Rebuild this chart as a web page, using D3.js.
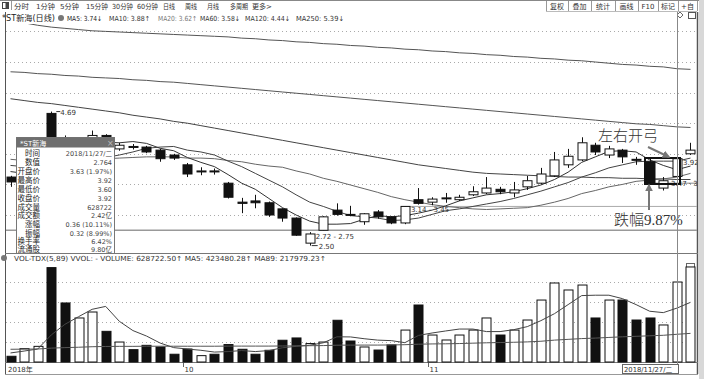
<!DOCTYPE html>
<html><head><meta charset="utf-8">
<script src="https://cdn.jsdelivr.net/npm/d3@7"></script>
<style>
body{margin:0;background:#fff}
svg{display:block}
text{font-family:"DejaVu Sans","Noto Sans CJK SC",sans-serif}
text.serif{font-family:"Liberation Serif","Noto Sans CJK SC",serif;font-weight:300}
</style>
</head><body>
<svg id="c" width="704" height="379"></svg>
<script>
// ---------------- DATA ----------------
const dates = ["2018-09-11","2018-09-12","2018-09-13","2018-09-14","2018-09-17","2018-09-18","2018-09-19","2018-09-20","2018-09-21","2018-09-25","2018-09-26","2018-09-27","2018-09-28",
"2018-10-08","2018-10-09","2018-10-10","2018-10-11","2018-10-12","2018-10-15","2018-10-16","2018-10-17","2018-10-18","2018-10-19","2018-10-22","2018-10-23","2018-10-24","2018-10-25","2018-10-26","2018-10-29","2018-10-30","2018-10-31",
"2018-11-01","2018-11-02","2018-11-05","2018-11-06","2018-11-07","2018-11-08","2018-11-09","2018-11-12","2018-11-13","2018-11-14","2018-11-15","2018-11-16","2018-11-19","2018-11-20","2018-11-21","2018-11-22","2018-11-23","2018-11-26","2018-11-27","2018-11-28"];
const openP  = [3.62,3.56,3.68,4.66,4.25,4.02,4.18,4.30,4.08,4.12,4.11,4.06,3.98,3.82,3.71,3.72,3.52,3.21,3.23,3.20,3.10,2.95,2.54,2.75,3.08,3.01,2.89,3.05,2.97,2.87,3.25,3.21,3.27,3.25,3.33,3.36,3.42,3.36,3.46,3.52,3.64,3.82,3.90,4.14,3.98,4.06,3.91,3.87,3.44,3.63,4.00];
const highP  = [3.64,3.72,3.84,4.69,4.30,4.26,4.38,4.32,4.18,4.16,4.13,4.08,4.00,3.85,3.78,3.76,3.54,3.28,3.33,3.22,3.11,2.96,2.72,2.98,3.19,3.15,3.03,3.08,2.98,3.14,3.44,3.29,3.36,3.33,3.47,3.62,3.46,3.54,3.64,3.77,4.03,4.08,4.27,4.18,4.13,4.08,3.95,3.93,3.62,3.92,4.18];
const lowP   = [3.46,3.52,3.65,4.18,3.98,3.98,4.12,4.12,4.05,4.07,4.01,3.87,3.90,3.62,3.65,3.66,3.27,3.03,3.11,2.97,2.89,2.66,2.50,2.75,2.99,2.98,2.84,2.94,2.85,2.85,3.17,3.16,3.20,3.23,3.31,3.34,3.34,3.29,3.41,3.50,3.62,3.77,3.88,3.98,3.93,3.85,3.82,3.50,3.40,3.60,3.98];
const closeP = [3.54,3.68,3.80,4.25,4.05,4.20,4.30,4.15,4.14,4.11,4.03,3.92,3.93,3.67,3.72,3.71,3.29,3.19,3.20,3.00,2.95,2.67,2.69,2.97,3.01,3.00,3.02,2.97,2.87,3.14,3.19,3.26,3.28,3.29,3.38,3.44,3.38,3.41,3.56,3.67,3.90,3.96,4.18,4.03,4.08,3.95,3.90,3.52,3.56,3.92,4.06];
const volume = [45000,105000,123000,742000,464000,346000,393000,241000,157000,97000,131000,118000,61000,102000,50000,61000,137000,100000,61000,92000,171000,189000,145000,157000,328000,165000,
118000,94000,134000,251000,448000,212000,173000,212000,251000,346000,212000,251000,330000,487000,621000,566000,605000,346000,487000,487000,330000,346000,291000,628722,747000];
const ma5  = [3.71,3.68,3.68,3.78,3.86,4.00,4.12,4.19,4.18,4.20,4.17,4.09,4.05,3.94,3.86,3.79,3.66,3.52,3.42,3.27,3.12,3.00,2.90,2.85,2.85,2.86,2.93,2.99,2.97,2.99,3.03,3.08,3.15,3.23,3.28,3.33,3.35,3.38,3.43,3.49,3.58,3.70,3.86,3.95,4.04,4.05,4.03,3.90,3.81,3.74,3.80];
const ma10 = [3.81,3.79,3.77,3.80,3.82,3.86,3.90,3.94,3.98,4.03,4.09,4.11,4.12,4.06,4.03,3.98,3.88,3.79,3.68,3.57,3.46,3.33,3.21,3.14,3.06,2.99,2.97,2.95,2.91,2.92,2.95,3.01,3.07,3.10,3.14,3.18,3.22,3.27,3.33,3.39,3.46,3.53,3.62,3.69,3.77,3.82,3.87,3.88,3.88,3.88,3.93];
const ma20 = [3.91,3.89,3.88,3.89,3.89,3.91,3.92,3.92,3.93,3.94,3.95,3.95,3.95,3.93,3.93,3.92,3.89,3.87,3.83,3.80,3.78,3.72,3.67,3.60,3.55,3.49,3.43,3.37,3.30,3.25,3.21,3.17,3.14,3.12,3.10,3.09,3.10,3.11,3.12,3.16,3.21,3.27,3.35,3.40,3.46,3.50,3.55,3.57,3.59,3.62,3.68];
const ma60 = [4.90,4.87,4.84,4.82,4.79,4.76,4.73,4.70,4.67,4.63,4.60,4.57,4.53,4.50,4.46,4.42,4.38,4.34,4.30,4.26,4.22,4.18,4.14,4.10,4.06,4.02,3.98,3.94,3.90,3.86,3.82,3.79,3.76,3.73,3.70,3.68,3.67,3.66,3.65,3.64,3.63,3.62,3.62,3.61,3.61,3.60,3.60,3.59,3.59,3.58,3.58];
const ma120 = [5.34,5.33,5.31,5.30,5.28,5.27,5.25,5.24,5.23,5.21,5.20,5.18,5.17,5.15,5.13,5.11,5.09,5.07,5.05,5.03,5.01,4.99,4.97,4.95,4.93,4.91,4.89,4.87,4.85,4.83,4.81,4.79,4.77,4.75,4.73,4.71,4.69,4.67,4.65,4.63,4.61,4.59,4.57,4.55,4.53,4.51,4.49,4.48,4.46,4.44,4.43];
const ma250 = [6.18,6.14,6.10,6.07,6.05,6.03,6.01,6.00,5.99,5.98,5.97,5.96,5.95,5.94,5.93,5.92,5.91,5.89,5.88,5.86,5.85,5.83,5.82,5.80,5.79,5.77,5.76,5.74,5.73,5.71,5.70,5.68,5.67,5.65,5.64,5.62,5.61,5.59,5.58,5.56,5.55,5.53,5.52,5.50,5.48,5.46,5.45,5.43,5.42,5.39,5.38];
const volMa5 = [71000,86000,102000,213000,296000,356000,414000,437000,320000,247000,204000,149000,113000,102000,92000,78000,82000,90000,82000,90000,112000,123000,132000,151000,198000,197000,183000,172000,168000,152000,209000,228000,244000,259000,259000,239000,239000,254000,278000,325000,380000,451000,522000,525000,525000,498000,451000,399000,388000,423480,469000];
const volMa89 = [100000,101000,102000,109000,113000,116000,120000,122000,123000,123000,124000,124000,124000,124000,124000,124000,125000,125000,125000,125000,126000,127000,128000,129000,132000,133000,133000,133000,134000,136000,140000,142000,143000,145000,148000,151000,153000,155000,158000,163000,172000,178000,184000,188000,193000,198000,202000,206000,210000,217979,225000];
const priceGrid = [3.0,3.5,4.0,4.5,5.0,5.5,6.0];
const volGrid = [157200,314400,471600,628800];
const monthTicks = [{d:"2018-10-08",label:"10"},{d:"2018-11-01",label:"11"}];
const toolLeft = ["分时","1分钟","5分钟","15分钟","30分钟","60分钟","日线","周线","月线","多周期","更多>"];
const toolRight = ["复权","叠加","统计","画线","F10","标记","+自"];
const maLegend = [["MA5: 3.74↓","#222"],["MA10: 3.88↑","#333"],["MA20: 3.62↑","#777"],["MA60: 3.58↓","#333"],["MA120: 4.44↓","#333"],["MA250: 5.39↓","#333"]];
const tipLabels = ["时间","数值","开盘价","最高价","最低价","收盘价","成交量","成交额","涨幅","振幅","换手率","流通股"];
const tipValues = ["2018/11/27/二","2.764","3.63 (1.97%)","3.92","3.60","3.92","628722","2.42亿","0.36 (10.11%)","0.32 (8.99%)","6.42%","9.80亿"];

// ---------------- SCALES ----------------
const svg = d3.select("#c");
const x = d3.scalePoint().domain(dates).range([3.7, 697.3]).padding(0.5);
const y = d3.scaleLinear().domain([3.0, 5.5]).range([215, 62]);
const yv = d3.scaleLinear().domain([0, 786000]).range([362, 262]);
const bw = 9;

svg.append("rect").attr("width",704).attr("height",379).attr("fill","#fff");
const defs = svg.append("defs");
defs.append("clipPath").attr("id","cm").append("rect").attr("x",6).attr("y",24).attr("width",691).attr("height",229);
defs.append("clipPath").attr("id","cv").append("rect").attr("x",6).attr("y",263).attr("width",691).attr("height",100);
defs.append("clipPath").attr("id","ct").append("rect").attr("x",0).attr("y",0).attr("width",704).attr("height",253);
defs.append("marker").attr("id","arr").attr("viewBox","0 0 10 10").attr("refX",8).attr("refY",5)
  .attr("markerWidth",4).attr("markerHeight",4).attr("orient","auto")
  .append("path").attr("d","M0,0L10,5L0,10z").attr("fill","#777");

// ---------------- TOOLBAR ----------------
svg.append("line").attr("x1",0).attr("x2",704).attr("y1",0.5).attr("y2",0.5).attr("stroke","#888");
svg.append("rect").attr("x",2.5).attr("y",2.5).attr("width",6).attr("height",6).attr("fill","#fff").attr("stroke","#444");
svg.append("rect").attr("x",5.5).attr("y",2.5).attr("width",3).attr("height",6).attr("fill","#444");
svg.append("line").attr("x1",11.5).attr("x2",11.5).attr("y1",1).attr("y2",10).attr("stroke","#999");
const tlx = [[14,15],[36,19],[60,19],[86,22],[112,21],[137,21],[163,12],[185,12],[207,12],[230,18],[252,20]];
svg.append("g").selectAll("text").data(toolLeft).join("text")
  .attr("x",(d,i)=>tlx[i][0]).attr("y",9).attr("font-size",7).attr("fill","#333")
  .attr("textLength",(d,i)=>tlx[i][1]).attr("lengthAdjust","spacingAndGlyphs").text(d=>d);
const trx = [546,568,591,615,638,658,678,697];
svg.append("g").selectAll("line").data(trx).join("line")
  .attr("x1",d=>d+0.5).attr("x2",d=>d+0.5).attr("y1",1).attr("y2",11).attr("stroke","#999");
svg.append("line").attr("x1",546).attr("x2",697).attr("y1",11.5).attr("y2",11.5).attr("stroke","#bbb");
svg.append("g").selectAll("text").data(toolRight).join("text")
  .attr("x",(d,i)=>(trx[i]+trx[i+1])/2).attr("y",9).attr("text-anchor","middle").attr("font-size",7).attr("fill","#333").text(d=>d);

// ---------------- HEADER ----------------
svg.append("text").attr("x",2).attr("y",21).attr("font-size",8).attr("fill","#222")
  .attr("textLength",53).attr("lengthAdjust","spacingAndGlyphs").text("*ST新海(日线)");
svg.append("circle").attr("cx",61).attr("cy",18).attr("r",3).attr("fill","#777");
const lgx = [[67,35],[109,41],[158,39],[200,40],[245,45],[296,48]];
svg.append("g").selectAll("text").data(maLegend).join("text")
  .attr("x",(d,i)=>lgx[i][0]).attr("y",21).attr("font-size",7).attr("fill",d=>d[1])
  .attr("textLength",(d,i)=>lgx[i][1]).attr("lengthAdjust","spacingAndGlyphs").text(d=>d[0]);
svg.append("path").attr("d","M680,12 l3,3 l-3,3 l-3,-3z").attr("fill","none").attr("stroke","#666");
svg.append("rect").attr("x",688.5).attr("y",12.5).attr("width",7).attr("height",6).attr("fill","none").attr("stroke","#555");

// ---------------- FRAME ----------------
const fr = svg.append("g").attr("stroke","#555").attr("fill","none");
fr.append("line").attr("x1",5.5).attr("x2",5.5).attr("y1",12).attr("y2",374);
fr.append("line").attr("x1",697.5).attr("x2",697.5).attr("y1",12).attr("y2",374).attr("stroke-width",1.5);
svg.append("rect").attr("x",699).attr("y",0).attr("width",5).attr("height",379).attr("fill","#d8d8d8");
fr.append("line").attr("x1",5).attr("x2",698).attr("y1",253.5).attr("y2",253.5).attr("stroke","#777");
fr.append("line").attr("x1",5).attr("x2",698).attr("y1",362.5).attr("y2",362.5).attr("stroke","#777");
fr.append("line").attr("x1",5).attr("x2",698).attr("y1",374.5).attr("y2",374.5).attr("stroke","#999");

// ---------------- MAIN PANE ----------------
const gm = svg.append("g").attr("clip-path","url(#cm)");
gm.selectAll("line.grid").data(priceGrid).join("line").attr("class","grid")
  .attr("x1",6).attr("x2",697).attr("y1",d=>Math.round(y(d))+0.5).attr("y2",d=>Math.round(y(d))+0.5)
  .attr("stroke","#aaa").attr("stroke-dasharray","1,3");
gm.append("line").attr("x1",6).attr("x2",697).attr("y1",y(2.75)).attr("y2",y(2.75)).attr("stroke","#999").attr("stroke-width",1.5);
gm.append("line").attr("x1",x(dates[29])-4).attr("x2",697).attr("y1",y(3.14)).attr("y2",y(3.14)).attr("stroke","#aaa").attr("stroke-width",1);
gm.append("line").attr("x1",x(dates[47])-4).attr("x2",697).attr("y1",y(3.52)).attr("y2",y(3.52)).attr("stroke","#888").attr("stroke-width",1);

const maSets = [[ma250,"#555"],[ma120,"#555"],[ma60,"#444"],[ma20,"#666"],[ma10,"#444"],[ma5,"#333"]];
maSets.forEach(([arr,col])=>{
  gm.append("path").datum(arr).attr("fill","none").attr("stroke",col).attr("stroke-width",1)
    .attr("d",d3.line().x((d,i)=>x(dates[i])).y(d=>y(d)));
});
const cg = gm.append("g");
dates.forEach((d,i)=>{
  const o=openP[i],c=closeP[i],h=highP[i],l=lowP[i];
  const up = c>=o;
  const cx = Math.round(x(d))+0.5;
  cg.append("line").attr("x1",cx).attr("x2",cx).attr("y1",y(h)).attr("y2",y(l)).attr("stroke","#111");
  const top = Math.min(y(o),y(c)), ht = Math.max(1,Math.abs(y(o)-y(c)));
  cg.append("rect").attr("x",cx-bw/2).attr("y",top).attr("width",bw).attr("height",ht)
    .attr("fill",up?"#fff":"#111").attr("stroke","#111").attr("stroke-width",1);
});
const lab = gm.append("g").attr("font-size",7).attr("fill","#333");
lab.append("line").attr("x1",x(dates[3])+5).attr("x2",x(dates[3])+9).attr("y1",y(4.69)).attr("y2",y(4.69)).attr("stroke","#333");
lab.append("text").attr("x",x(dates[3])+9).attr("y",y(4.69)+3).text("4.69");
lab.append("text").attr("x",x(dates[22])+6).attr("y",239).text("2.72 - 2.75");
lab.append("text").attr("x",x(dates[22])+9).attr("y",y(2.50)+3).text("2.50");
lab.append("line").attr("x1",x(dates[22])+8).attr("x2",x(dates[22])+2).attr("y1",y(2.50)).attr("y2",y(2.50)).attr("stroke","#333");
lab.append("text").attr("x",x(dates[29])+6).attr("y",212).text("3.14 - 3.45");
lab.append("text").attr("x",683).attr("y",165).text("3.92");
lab.append("text").attr("x",671).attr("y",186).text("3.47 · 3.");

// annotations
const an = svg.append("g");
an.append("rect").attr("x",645).attr("y",158).attr("width",35).attr("height",26).attr("fill","none").attr("stroke","#111").attr("stroke-width",2);
an.append("line").attr("x1",648).attr("y1",147).attr("x2",669).attr("y2",157).attr("stroke","#777").attr("stroke-width",2).attr("marker-end","url(#arr)");
an.append("line").attr("x1",649).attr("y1",210).attr("x2",649).attr("y2",185).attr("stroke","#777").attr("stroke-width",2).attr("marker-end","url(#arr)");
an.append("text").attr("class","serif").attr("x",598).attr("y",141).attr("font-size",15).attr("fill","#333").text("左右开弓");
an.append("text").attr("class","serif").attr("x",614).attr("y",225).attr("font-size",15).attr("fill","#333").text("跌幅9.87%");

// tooltip
const tt = svg.append("g").attr("clip-path","url(#ct)");
tt.append("rect").attr("x",16.5).attr("y",137.5).attr("width",98).attr("height",118).attr("fill","#fff").attr("stroke","#777");
tt.append("rect").attr("x",16.5).attr("y",137.5).attr("width",98).attr("height",10).attr("fill","#6f6f6f");
tt.append("text").attr("x",20).attr("y",145.5).attr("font-size",7).attr("fill","#fff").text("*ST新海");
tt.append("text").attr("x",107).attr("y",146).attr("font-size",8).attr("fill","#bbb").text("×");
const rowY = [155.5,165,174,183,192,200.5,209.5,218,227,235.5,243.5,251.5];
tt.selectAll("text.l").data(tipLabels).join("text").attr("class","l")
  .attr("x",40).attr("y",(d,i)=>rowY[i]).attr("text-anchor","end").attr("font-size",7.5).attr("fill","#222").text(d=>d);
tt.selectAll("text.v").data(tipValues).join("text").attr("class","v")
  .attr("x",112).attr("y",(d,i)=>rowY[i]).attr("text-anchor","end").attr("font-size",6.5).attr("fill","#444").text(d=>d);

// ---------------- VOLUME PANE ----------------
svg.append("circle").attr("cx",4).attr("cy",258).attr("r",3).attr("fill","#777");
svg.append("text").attr("x",14).attr("y",261).attr("font-size",7).attr("fill","#333")
  .attr("textLength",312).attr("lengthAdjust","spacingAndGlyphs")
  .text("VOL-TDX(5,89) VVOL: -  VOLUME: 628722.50↑  MA5: 423480.28↑  MA89: 217979.23↑");
svg.append("rect").attr("x",686.5).attr("y",263.5).attr("width",8).attr("height",7).attr("fill","none").attr("stroke","#666");
const gv = svg.append("g").attr("clip-path","url(#cv)");
gv.selectAll("line.grid").data(volGrid).join("line").attr("class","grid")
  .attr("x1",6).attr("x2",697).attr("y1",d=>Math.round(yv(d))+0.5).attr("y2",d=>Math.round(yv(d))+0.5)
  .attr("stroke","#aaa").attr("stroke-dasharray","1,3");
gv.selectAll("rect.v").data(volume).join("rect").attr("class","v")
  .attr("x",(d,i)=>Math.round(x(dates[i]))+0.5-bw/2).attr("y",d=>yv(d)).attr("width",bw).attr("height",d=>yv(0)-yv(d))
  .attr("fill",(d,i)=>closeP[i]>=openP[i]?"#fff":"#111").attr("stroke","#111");
[[volMa5,"#444"],[volMa89,"#555"]].forEach(([arr,col])=>{
  gv.append("path").datum(arr).attr("fill","none").attr("stroke",col).attr("stroke-width",1)
    .attr("d",d3.line().x((d,i)=>x(dates[i])).y(d=>yv(d)));
});

// crosshair
svg.append("line").attr("x1",677.5).attr("x2",677.5).attr("y1",12).attr("y2",374).attr("stroke","#888");

// ---------------- X AXIS ----------------
const ax = svg.append("g").attr("font-size",7).attr("fill","#333");
ax.append("text").attr("x",8).attr("y",372).text("2018年");
monthTicks.forEach(t=>{
  const tx = Math.round(x(t.d))-3.5;
  ax.append("line").attr("x1",tx).attr("x2",tx).attr("y1",363).attr("y2",367).attr("stroke","#666");
  ax.append("text").attr("x",tx+1).attr("y",372).text(t.label);
});
ax.append("rect").attr("x",622.5).attr("y",364.5).attr("width",56).attr("height",9).attr("fill","#fff").attr("stroke","#666");
ax.append("text").attr("x",624).attr("y",372).attr("font-size",6.8).text("2018/11/27/二");
</script>
</body></html>
